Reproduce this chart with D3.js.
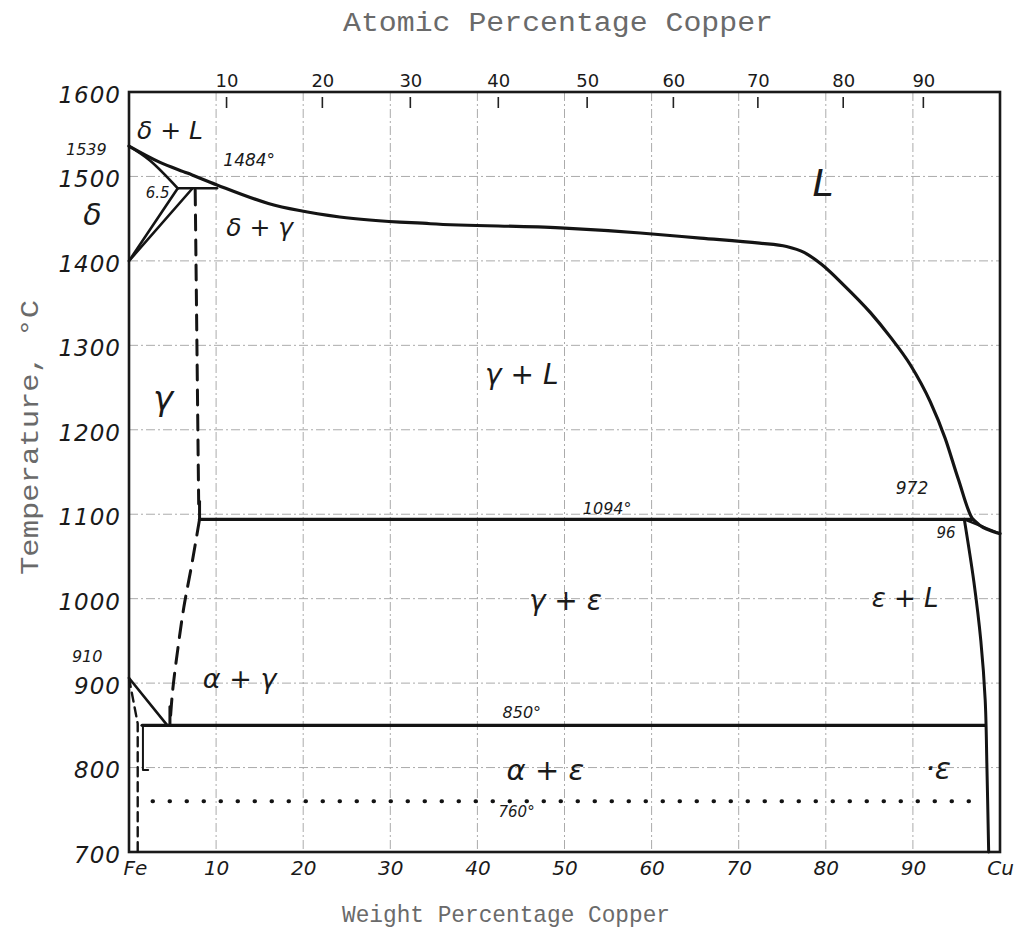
<!DOCTYPE html>
<html>
<head>
<meta charset="utf-8">
<script src="https://cdn.jsdelivr.net/npm/d3@7"></script>
<style>
  body { margin: 0; background: #fff; }
  .hand { font-family: "DejaVu Sans", sans-serif; font-style: italic; fill: #1a1a1a; }
  .typed { font-family: "Liberation Mono", monospace; fill: #6a6a6a; }
</style>
</head>
<body>
<script>
// Fe-Cu phase diagram
var tempTicks = [700, 800, 900, 1000, 1100, 1200, 1300, 1400, 1500, 1600];
var wtTicks = [0, 10, 20, 30, 40, 50, 60, 70, 80, 90, 100];
var wtLabels = ["Fe", "10", "20", "30", "40", "50", "60", "70", "80", "90", "Cu"];
var atomicLabels = ["10", "20", "30", "40", "50", "60", "70", "80", "90"];
var atomicAsWeight = [11.2, 22.2, 32.3, 42.4, 52.6, 62.5, 72.2, 82.0, 91.2];
var gridWt = [10, 20, 30, 40, 50, 60, 70, 80, 90];
var gridTemp = [800, 900, 1000, 1100, 1200, 1300, 1400, 1500];

// boundaries: [weight % Cu, temperature]
var liquidus = [[0, 1536], [3.5, 1517], [6.7, 1504], [10.1, 1490], [16, 1468], [24.2, 1452],
  [34.6, 1444], [49.5, 1439], [58.7, 1433], [65.6, 1427], [72.4, 1421], [75.5, 1417],
  [77.5, 1410], [79.5, 1396], [82.0, 1372], [85.1, 1339], [87.4, 1310],
  [89.7, 1277], [92.0, 1233], [93.7, 1190], [95.2, 1142], [96.9, 1094], [100, 1077]];
var deltaSolidus = [[0, 1536], [2.4, 1519], [5.6, 1486]];
var peritecticTop = [[5.6, 1486], [10.1, 1486]];
var deltaSolvus = [[0, 1400], [5.6, 1486]];
var gammaDeltaLine = [[0, 1400], [7.3, 1486]];
var gammaUpper = [[7.6, 1484], [7.8, 1300], [8.0, 1112]];
var gammaStub = [[8.1, 1115], [8.1, 1094]];
var peritectic1094 = [[8.1, 1094], [96.9, 1094]];
var gammaSolvus = [[8.1, 1094], [7.2, 1040], [6.3, 990], [5.6, 940], [5.0, 890], [4.7, 850]];
var gammaFoot = [[4.7, 872], [4.7, 850]];
var alphaGamma = [[0, 906], [4.4, 850]];
var alphaSolvus = [[0, 906], [1.0, 852], [1.0, 700]];
var eutectoid = [[1.5, 850], [98.3, 850]];
var eutectoidStub = [[1.6, 850], [1.6, 797], [2.2, 797]];
var magnetic760 = [[2.7, 760], [98.3, 760]];
var epsSolidus = [[95.9, 1094], [100, 1077]];
var epsSolvus = [[95.9, 1094], [97.0, 1020], [97.8, 950], [98.3, 880], [98.5, 800], [98.7, 700]];

var labels = [
  { t: "δ + L", wt: 4.7, T: 1555, s: 25 },
  { t: "1539", wt: -4.9, T: 1532, s: 16 },
  { t: "δ", wt: -4.2, T: 1455, s: 30 },
  { t: "6.5", wt: 3.3, T: 1480, s: 15 },
  { t: "1484°", wt: 13.8, T: 1519, s: 17 },
  { t: "δ + γ", wt: 15.0, T: 1439, s: 25 },
  { t: "L", wt: 79.7, T: 1492, s: 38 },
  { t: "γ", wt: 3.9, T: 1238, s: 34 },
  { t: "γ + L", wt: 45.1, T: 1265, s: 28 },
  { t: "972", wt: 89.9, T: 1131, s: 17 },
  { t: "1094°", wt: 54.9, T: 1107, s: 16 },
  { t: "96", wt: 93.8, T: 1078, s: 15 },
  { t: "ε + L", wt: 89.1, T: 1001, s: 26 },
  { t: "γ + ε", wt: 50.1, T: 998, s: 28 },
  { t: "910", wt: -4.8, T: 931, s: 16 },
  { t: "α + γ", wt: 12.7, T: 906, s: 27 },
  { t: "850°", wt: 45.1, T: 865, s: 16 },
  { t: "α + ε", wt: 47.8, T: 797, s: 29 },
  { t: "·ε", wt: 92.9, T: 799, s: 30 },
  { t: "760°", wt: 44.5, T: 747, s: 15 }
];

var svgWidth = 1018, svgHeight = 947;
var margin = { top: 92, right: 18, bottom: 95, left: 129 };
var width = svgWidth - margin.left - margin.right;
var height = svgHeight - margin.top - margin.bottom;

var svg = d3.select("body").append("svg")
  .attr("width", svgWidth)
  .attr("height", svgHeight);
svg.append("rect").attr("width", svgWidth).attr("height", svgHeight).attr("fill", "#fff");

var chart = svg.append("g").attr("transform", `translate(${margin.left}, ${margin.top})`);

var x = d3.scaleLinear().domain([0, 100]).range([0, width]);
var y = d3.scaleLinear().domain([700, 1600]).range([height, 0]);

// grid
chart.selectAll(".vgrid").data(gridWt).enter().append("line")
  .attr("x1", d => x(d)).attr("x2", d => x(d))
  .attr("y1", 0).attr("y2", height)
  .attr("stroke", "#ababab").attr("stroke-width", 1)
  .attr("stroke-dasharray", "9,3,2,3");
chart.selectAll(".hgrid").data(gridTemp).enter().append("line")
  .attr("x1", 0).attr("x2", width)
  .attr("y1", d => y(d)).attr("y2", d => y(d))
  .attr("stroke", "#ababab").attr("stroke-width", 1)
  .attr("stroke-dasharray", "9,3,2,3");

// axes
var leftAxis = d3.axisLeft(y).tickValues(tempTicks).tickSize(0).tickPadding(8)
  .tickFormat(d3.format("d"));
var gl = chart.append("g").call(leftAxis);
gl.select(".domain").remove();
gl.selectAll("text").attr("class", "hand").attr("font-size", 23).attr("dy", "0.45em")
  .attr("letter-spacing", 1);

var bottomAxis = d3.axisBottom(x).tickValues(wtTicks).tickSize(0).tickPadding(9)
  .tickFormat((d, i) => wtLabels[i]);
var gb = chart.append("g").attr("transform", `translate(0, ${height})`).call(bottomAxis);
gb.select(".domain").remove();
gb.selectAll("text").attr("class", "hand").attr("font-size", 20)
  .attr("dx", (d, i) => i === 0 ? 6 : 0);

var topAxis = d3.axisTop(x).tickValues(atomicAsWeight).tickSize(0).tickPadding(5)
  .tickFormat((d, i) => atomicLabels[i]);
var gt = chart.append("g").call(topAxis);
gt.select(".domain").remove();
gt.selectAll("text").attr("font-family", "DejaVu Sans").attr("font-size", 18).attr("fill", "#1a1a1a");

chart.selectAll(".atick").data(atomicAsWeight).enter().append("line")
  .attr("x1", d => x(d)).attr("x2", d => x(d))
  .attr("y1", 5).attr("y2", 16)
  .attr("stroke", "#222").attr("stroke-width", 1.6);

// frame
chart.append("rect").attr("width", width).attr("height", height)
  .attr("fill", "none").attr("stroke", "#1a1a1a").attr("stroke-width", 2.6);

// boundaries
var line = d3.line().x(d => x(d[0])).y(d => y(d[1]));
var smooth = d3.line().x(d => x(d[0])).y(d => y(d[1])).curve(d3.curveCatmullRom.alpha(0.5));
var monoX = d3.line().x(d => x(d[0])).y(d => y(d[1])).curve(d3.curveMonotoneX);

function draw(data, gen, w, dash) {
  var p = chart.append("path").datum(data)
    .attr("d", gen)
    .attr("fill", "none")
    .attr("stroke", "#141414")
    .attr("stroke-width", w)
    .attr("stroke-linecap", "round")
    .attr("stroke-linejoin", "round");
  if (dash === "dots") p.attr("stroke-dasharray", "0.5,16.5");
  else if (dash) p.attr("stroke-dasharray", dash);
  return p;
}

draw(liquidus, monoX, 3.2);
draw(deltaSolidus, smooth, 2.6);
draw(peritecticTop, line, 2.6);
draw(deltaSolvus, line, 2.6);
draw(gammaDeltaLine, line, 2.6);
draw(gammaUpper, line, 3, "15,10");
draw(gammaStub, line, 3);
draw(peritectic1094, line, 3.2);
draw(gammaSolvus, smooth, 3, "16,10");
draw(gammaFoot, line, 3);
draw(alphaGamma, line, 2.6);
draw(alphaSolvus, line, 2.4, "9,6");
draw(eutectoid, line, 3.2);
draw(eutectoidStub, line, 2);
draw(magnetic760, line, 4, "dots");
draw(epsSolidus, line, 2.4);
draw(epsSolvus, smooth, 3);

// region and point labels
chart.selectAll(".lab").data(labels).enter().append("text")
  .attr("class", "hand")
  .attr("x", d => x(d.wt))
  .attr("y", d => y(d.T))
  .attr("text-anchor", "middle")
  .attr("dominant-baseline", "central")
  .attr("font-size", d => d.s)
  .text(d => d.t);

// axis titles
svg.append("text").attr("class", "typed")
  .attr("x", 343).attr("y", 31)
  .attr("font-size", 27)
  .attr("textLength", 430).attr("lengthAdjust", "spacingAndGlyphs")
  .text("Atomic Percentage Copper");

svg.append("text").attr("class", "typed")
  .attr("x", 342).attr("y", 922)
  .attr("font-size", 24)
  .attr("textLength", 328).attr("lengthAdjust", "spacingAndGlyphs")
  .text("Weight Percentage Copper");

svg.append("text").attr("class", "typed")
  .attr("transform", "translate(38, 575) rotate(-90)")
  .attr("font-size", 25)
  .attr("textLength", 275).attr("lengthAdjust", "spacingAndGlyphs")
  .text("Temperature, °C");
</script>
</body>
</html>
